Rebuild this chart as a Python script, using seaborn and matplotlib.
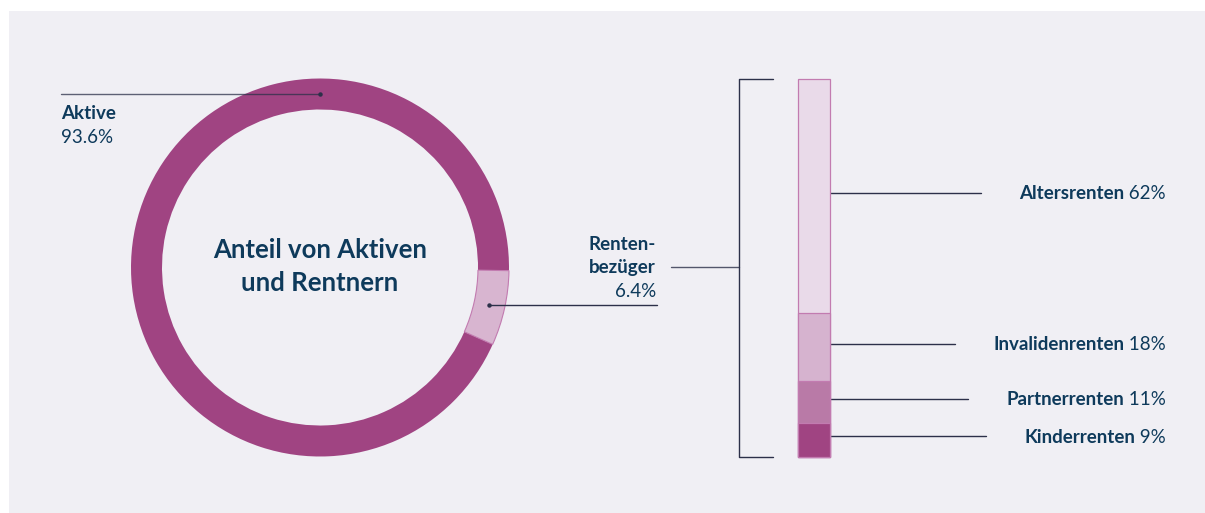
import numpy as np
import pandas as pd
import matplotlib
matplotlib.use("Agg")
import matplotlib.pyplot as plt
import seaborn as sns
from matplotlib.patches import Rectangle

# ---------------- data ----------------
donut_labels = ["Rentenbezüger", "Aktive"]
donut_values = [6.4, 93.6]
donut_colors = ["#d8b5d0", "#a04482"]

pension_labels = ["Altersrenten", "Invalidenrenten", "Partnerrenten", "Kinderrenten"]
pension_values = [62, 18, 11, 9]
pension_colors = ["#e9dae9", "#d6b3cf", "#b97aa7", "#a04482"]

title_lines = ["Anteil von Aktiven", "und Rentnern"]
aktive_label = ["Aktive", "93.6%"]
renten_label = ["Renten-", "bezüger", "6.4%"]

# ---------------- style ----------------
sns.set_theme(style="white")
plt.rcParams["font.family"] = ["Lato", "DejaVu Sans"]

TXT = "#0e3a5b"
LINE = "#2c3049"
BG = "#f0eff4"
EDGE = "#c27bb0"
FS = 13.5
NUMW = "normal"

W, H = 1205, 513
fig = plt.figure(figsize=(W / 100, H / 100), dpi=100, facecolor="white")
ax = fig.add_axes([0, 0, 1, 1])


def Y(y):
    return H - y


# background panel
ax.add_patch(Rectangle((9, 0), W - 9, Y(11), facecolor=BG, edgecolor="none", zorder=0))

# ---------------- donut ----------------
cx, cy = 320, Y(267.5)
R, ring = 189, 31
wedges, _ = ax.pie(donut_values, colors=donut_colors, startangle=-24, counterclock=True,
                   radius=R, center=(cx, cy),
                   wedgeprops=dict(width=ring, linewidth=0))
wedges[0].set_edgecolor(EDGE)
wedges[0].set_linewidth(0.8)
for w in wedges:
    w.set_zorder(2)
wedges[0].set_zorder(3)

ax.set_xlim(0, W)
ax.set_ylim(0, H)
ax.set_aspect("auto")
ax.axis("off")

rmid = R - ring / 2

# title
ax.text(cx, Y(258), title_lines[0], ha="center", va="baseline", fontsize=18.5,
        fontweight="bold", color=TXT, zorder=5)
ax.text(cx, Y(291), title_lines[1], ha="center", va="baseline", fontsize=18.5,
        fontweight="bold", color=TXT, zorder=5)

# Aktive leader (dot at top of ring)
ax_dot = (cx, cy + rmid)
ax.plot([61, ax_dot[0]], [ax_dot[1], ax_dot[1]], color=LINE, lw=1.0, alpha=0.75, zorder=4)
ax.plot([ax_dot[0]], [ax_dot[1]], "o", ms=2.2, color=LINE, zorder=5)
ax.text(61, Y(119), aktive_label[0], ha="left", va="baseline", fontsize=FS,
        fontweight="bold", color=TXT)
ax.text(61, Y(143), aktive_label[1], ha="left", va="baseline", fontsize=FS,
        fontweight=NUMW, color=TXT)

# Rentenbezüger leader (dot at wedge middle)
w0 = wedges[0]
ang = np.deg2rad((w0.theta1 + w0.theta2) / 2)
rd = (cx + rmid * np.cos(ang), cy + rmid * np.sin(ang))
ax.plot([rd[0], 657], [rd[1], rd[1]], color=LINE, lw=1.0, zorder=4)
ax.plot([rd[0]], [rd[1]], "o", ms=2.2, color=LINE, zorder=5)
ax.text(656, Y(250), renten_label[0], ha="right", va="baseline", fontsize=FS,
        fontweight="bold", color=TXT)
ax.text(656, Y(273), renten_label[1], ha="right", va="baseline", fontsize=FS,
        fontweight="bold", color=TXT)
ax.text(656, Y(297), renten_label[2], ha="right", va="baseline", fontsize=FS,
        fontweight=NUMW, color=TXT)

# bracket
bx, btop, bbot = 739, Y(79), Y(457)
ax.plot([773, bx, bx, 773], [btop, btop, bbot, bbot], color=LINE, lw=1.0, zorder=4)
ax.plot([671, bx], [Y(267), Y(267)], color=LINE, lw=1.0, alpha=0.8, zorder=4)

# ---------------- stacked bar ----------------
bl, br = 798, 830
bax = fig.add_axes([bl / W, Y(457) / H, (br - bl) / W, (457 - 79) / H])
bax.set_facecolor("none")
order = pension_labels[::-1]  # bottom -> top
vals_bt = pension_values[::-1]
cols_bt = pension_colors[::-1]
cum = np.cumsum(vals_bt)
df = pd.DataFrame({"cat": order, "top": cum, "val": vals_bt})
for i in range(len(df) - 1, -1, -1):
    sns.barplot(x=["R"], y=[df["top"][i]], color=cols_bt[i], width=1.0,
                edgecolor=EDGE, linewidth=0.9, errorbar=None, ax=bax,
                saturation=1)
for p in bax.patches:
    p.set_clip_on(False)
bax.set_xlim(-0.5, 0.5)
bax.set_ylim(0, 100)
bax.axis("off")

# labels on the right
fig.canvas.draw()
renderer = fig.canvas.get_renderer()
inv = ax.transData.inverted()
xr = 1166
for i in range(len(df)):
    lab = df["cat"][i]
    mid = df["top"][i] - df["val"][i] / 2
    py = bax.transData.transform((0, mid))[1]
    ly = inv.transform((0, py))[1] + 3.5
    t_pct = ax.text(xr, ly - 6.5, f" {df['val'][i]}%", ha="right", va="baseline",
                    fontsize=FS, fontweight=NUMW, color=TXT)
    ext = t_pct.get_window_extent(renderer)
    x0 = inv.transform((ext.x0, 0))[0]
    t_lab = ax.text(x0, ly - 6.5, lab, ha="right", va="baseline", fontsize=FS,
                    fontweight="bold", color=TXT)
    ext2 = t_lab.get_window_extent(renderer)
    xl = inv.transform((ext2.x0, 0))[0]
    ax.plot([br, xl - 38], [ly, ly], color=LINE, lw=1.0, zorder=4)

fig.savefig("out.png", dpi=100, facecolor="white")
